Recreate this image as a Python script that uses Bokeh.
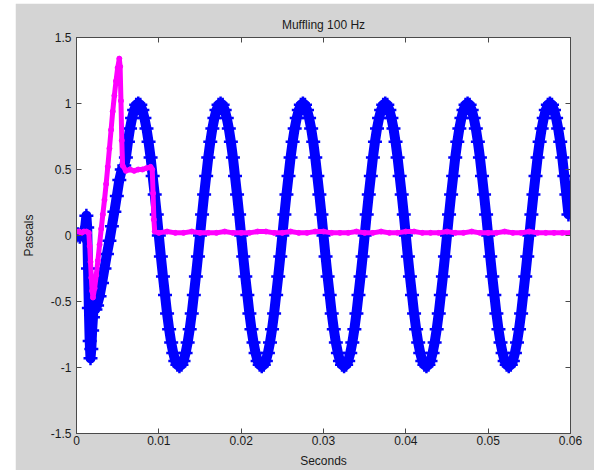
import numpy as np
from bokeh.plotting import figure
from bokeh.models import LinearAxis, FixedTicker, CustomJSTickFormatter, Range1d
from bokeh.embed import file_html
from bokeh.resources import INLINE

# ---------------- data ----------------
title_text = "Muffling 100 Hz"
x_label = "Seconds"
y_label = "Pascals"
x_ticks = [0, 0.01, 0.02, 0.03, 0.04, 0.05, 0.06]
x_tick_labels = ["0", "0.01", "0.02", "0.03", "0.04", "0.05", "0.06"]
y_ticks = [-1.5, -1, -0.5, 0, 0.5, 1, 1.5]
y_tick_labels = ["-1.5", "-1", "-0.5", "0", "0.5", "1", "1.5"]

# blue series (microphone, '+' markers): start transient
blue_t_start = [0.0000, 0.0002, 0.0004, 0.0006, 0.0008, 0.0010, 0.0012, 0.0013,
                0.0014, 0.0015, 0.0016, 0.0017, 0.0018, 0.0019, 0.0020, 0.0021,
                0.0023, 0.0025, 0.0028, 0.0031, 0.0034, 0.0037, 0.0040, 0.0043,
                0.0046, 0.0049, 0.0052, 0.0055, 0.0058]
blue_v_start = [0.00, 0.01, -0.01, 0.02, 0.00, 0.03, 0.15, 0.06,
                -0.25, -0.55, -0.80, -0.93, -0.86, -0.72, -0.62, -0.52,
                -0.56, -0.53, -0.46, -0.36, -0.25, -0.14, -0.04, 0.07,
                0.18, 0.30, 0.42, 0.50, 0.53]
# blue series: steady part, sampled every 0.25 ms from 6 ms
blue_main_t0 = 0.006
blue_main_dt = 0.00025
blue_v_main = [
    0.59, 0.71, 0.81, 0.89, 0.95, 0.99, 1.00, 0.99, 0.95, 0.89, 0.81, 0.71, 0.59, 0.45, 0.31, 0.16, 0.00, -0.16, -0.31, -0.45,
    -0.59, -0.71, -0.81, -0.89, -0.95, -0.98, -0.99, -0.98, -0.95, -0.89, -0.81, -0.71, -0.59, -0.45, -0.31, -0.16, 0.00, 0.16, 0.31, 0.45,
    0.59, 0.71, 0.81, 0.89, 0.95, 0.99, 1.00, 0.99, 0.95, 0.89, 0.81, 0.71, 0.59, 0.45, 0.31, 0.16, 0.00, -0.16, -0.31, -0.45,
    -0.59, -0.71, -0.81, -0.89, -0.95, -0.98, -0.99, -0.98, -0.95, -0.89, -0.81, -0.71, -0.59, -0.45, -0.31, -0.16, 0.00, 0.16, 0.31, 0.45,
    0.59, 0.71, 0.81, 0.89, 0.95, 0.99, 1.00, 0.99, 0.95, 0.89, 0.81, 0.71, 0.59, 0.45, 0.31, 0.16, 0.00, -0.16, -0.31, -0.45,
    -0.59, -0.71, -0.81, -0.89, -0.95, -0.98, -0.99, -0.98, -0.95, -0.89, -0.81, -0.71, -0.59, -0.45, -0.31, -0.16, 0.00, 0.16, 0.31, 0.45,
    0.59, 0.71, 0.81, 0.89, 0.95, 0.99, 1.00, 0.99, 0.95, 0.89, 0.81, 0.71, 0.59, 0.45, 0.31, 0.16, 0.00, -0.16, -0.31, -0.45,
    -0.59, -0.71, -0.81, -0.89, -0.95, -0.98, -0.99, -0.98, -0.95, -0.89, -0.81, -0.71, -0.59, -0.45, -0.31, -0.16, 0.00, 0.16, 0.31, 0.45,
    0.59, 0.71, 0.81, 0.89, 0.95, 0.99, 1.00, 0.99, 0.95, 0.89, 0.81, 0.71, 0.59, 0.45, 0.31, 0.16, 0.00, -0.16, -0.31, -0.45,
    -0.59, -0.71, -0.81, -0.89, -0.95, -0.98, -0.99, -0.98, -0.95, -0.89, -0.81, -0.71, -0.59, -0.45, -0.31, -0.16, 0.00, 0.16, 0.31, 0.45,
    0.59, 0.71, 0.81, 0.89, 0.95, 0.99, 1.00, 0.99, 0.95, 0.89, 0.81, 0.71, 0.59, 0.45, 0.31, 0.16,
]

# magenta series ('.' markers): start transient
mag_t_start = [0.0000, 0.0003, 0.0006, 0.0009, 0.0012, 0.0015, 0.0016, 0.0017,
               0.0018, 0.0019, 0.0020, 0.0022, 0.0024, 0.0026, 0.0028, 0.0030,
               0.0032, 0.0034, 0.0036, 0.0038, 0.0040, 0.0042, 0.0044, 0.0046,
               0.0048, 0.0050, 0.0052, 0.0053, 0.0054, 0.0055, 0.0056, 0.0060,
               0.0065, 0.0070, 0.0075, 0.0080, 0.0085, 0.0090, 0.0092, 0.0093,
               0.0094, 0.0095]
mag_v_start = [0.03, 0.03, 0.02, 0.03, 0.03, 0.02, -0.08, -0.20,
               -0.32, -0.42, -0.47, -0.40, -0.30, -0.19, -0.07, 0.05,
               0.16, 0.27, 0.39, 0.52, 0.66, 0.80, 0.94, 1.06,
               1.17, 1.27, 1.34, 1.28, 1.02, 0.72, 0.53, 0.49,
               0.50, 0.49, 0.50, 0.50, 0.51, 0.52, 0.50, 0.32,
               0.12, 0.03]
# magenta series: flat part, every 1 ms from 10 ms
mag_flat_t0 = 0.010
mag_flat_dt = 0.001
mag_v_flat = [
    0.02, 0.03, 0.02, 0.02, 0.03, 0.02, 0.02, 0.02, 0.03, 0.02,
    0.02, 0.02, 0.03, 0.03, 0.02, 0.02, 0.03, 0.02, 0.02, 0.03,
    0.03, 0.02, 0.02, 0.02, 0.03, 0.02, 0.02, 0.03, 0.02, 0.02,
    0.03, 0.03, 0.02, 0.02, 0.02, 0.03, 0.02, 0.02, 0.03, 0.02,
    0.02, 0.02, 0.03, 0.02, 0.02, 0.03, 0.02, 0.02, 0.02, 0.02,
    0.02,
]

# ---------------- assemble ----------------
blue_t = list(blue_t_start) + list(np.round(blue_main_t0 + blue_main_dt * np.arange(len(blue_v_main)), 6))
blue_v = list(blue_v_start) + list(blue_v_main)
mag_t = list(mag_t_start) + list(np.round(mag_flat_t0 + mag_flat_dt * np.arange(len(mag_v_flat)), 6))
mag_v = list(mag_v_start) + list(mag_v_flat)

FONT = "Liberation Sans"
TXT = "#1a1a1a"
AX = "#4a4a4a"
BG = "#d4d4d4"

p = figure(width=579, height=467,
           x_range=Range1d(0, 0.06), y_range=Range1d(-1.5, 1.5),
           output_backend="svg", toolbar_location=None,
           min_border_left=61, min_border_right=24,
           min_border_top=34, min_border_bottom=37,
           background_fill_color="white", border_fill_color=BG,
           outline_line_color=AX, outline_line_width=1)
p.margin = (3, 0, 0, 15)

p.title.text = title_text
p.title.align = "center"
p.title.vertical_align = "middle"
p.title.text_font = FONT
p.title.text_font_size = "12px"
p.title.text_font_style = "normal"
p.title.text_color = TXT

p.xgrid.grid_line_color = None
p.ygrid.grid_line_color = None


def style_axis(ax, ticks, labels):
    ax.ticker = FixedTicker(ticks=ticks)
    if labels is not None:
        ax.major_label_overrides = {t: l for t, l in zip(ticks, labels)}
    ax.major_tick_in = 5
    ax.major_tick_out = 0
    ax.minor_tick_line_color = None
    ax.axis_line_color = AX
    ax.major_tick_line_color = AX
    ax.major_label_text_font = FONT
    ax.major_label_text_font_size = "12px"
    ax.major_label_text_color = TXT
    ax.axis_label_text_font = FONT
    ax.axis_label_text_font_size = "12px"
    ax.axis_label_text_font_style = "normal"
    ax.axis_label_text_color = TXT


xa = p.xaxis[0]
ya = p.yaxis[0]
style_axis(xa, x_ticks, x_tick_labels)
style_axis(ya, y_ticks, y_tick_labels)
xa.axis_label = x_label
ya.axis_label = y_label
xa.major_label_standoff = 2
xa.axis_label_standoff = 6
ya.major_label_standoff = 5
ya.axis_label_standoff = 12

top = LinearAxis(formatter=CustomJSTickFormatter(code="return ''"))
style_axis(top, x_ticks, None)
top.major_label_standoff = 0
p.add_layout(top, "above")
right = LinearAxis(formatter=CustomJSTickFormatter(code="return ''"))
style_axis(right, y_ticks, None)
right.major_label_standoff = 0
p.add_layout(right, "right")

BLUE = "#0000ff"
MAG = "#ff00ff"
p.line(blue_t, blue_v, line_color=BLUE, line_width=10, line_join="round", line_cap="round")
p.scatter(blue_t, blue_v, marker="cross", size=14, line_color=BLUE, line_width=2.5)
p.line(mag_t, mag_v, line_color=MAG, line_width=5, line_join="round")
p.scatter(mag_t, mag_v, marker="circle", size=5, fill_color=MAG, line_color=MAG)

open("out.html", "w").write(file_html(p, INLINE))
